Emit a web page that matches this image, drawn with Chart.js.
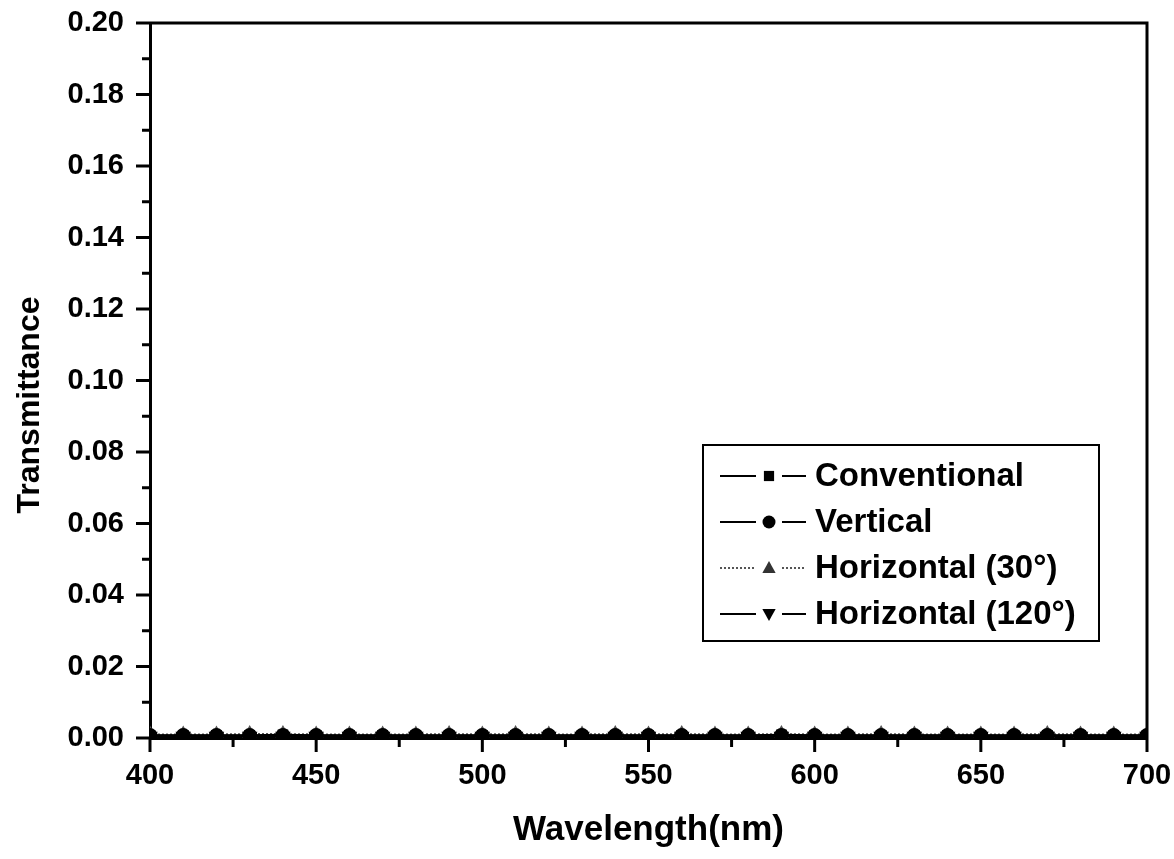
<!DOCTYPE html>
<html><head><meta charset="utf-8">
<script src="https://cdn.jsdelivr.net/npm/chart.js@4.4.1/dist/chart.umd.min.js"></script>
<style>html,body{margin:0;padding:0;background:#fff;}#wrap{width:1174px;height:859px;}</style>
</head><body><div id="wrap"><canvas id="c" width="1174" height="859"></canvas></div>
<script>
const wavelengths = [400,410,420,430,440,450,460,470,480,490,500,510,520,530,540,550,560,570,580,590,600,610,620,630,640,650,660,670,680,690,700];
const conventional = [0.0008,0.0008,0.0008,0.0008,0.0009,0.0008,0.0008,0.0008,0.0008,0.0008,0.0008,0.0008,0.0008,0.0008,0.0008,0.0008,0.0008,0.0008,0.0008,0.0009,0.0008,0.0008,0.0008,0.0008,0.0008,0.0008,0.0008,0.0008,0.0008,0.0008,0.0008];
const vertical = [0.0007,0.0007,0.0007,0.0007,0.0007,0.0007,0.0007,0.0007,0.0007,0.0007,0.0007,0.0007,0.0007,0.0007,0.0007,0.0007,0.0007,0.0007,0.0007,0.0007,0.0007,0.0007,0.0007,0.0007,0.0007,0.0007,0.0007,0.0007,0.0007,0.0007,0.0007];
const horizontal30 = [0.0010,0.0010,0.0010,0.0011,0.0011,0.0010,0.0010,0.0010,0.0010,0.0011,0.0010,0.0011,0.0010,0.0010,0.0011,0.0010,0.0011,0.0010,0.0010,0.0011,0.0010,0.0010,0.0011,0.0010,0.0010,0.0010,0.0010,0.0011,0.0010,0.0010,0.0010];
const horizontal120 = [0.0005,0.0005,0.0005,0.0005,0.0005,0.0005,0.0005,0.0005,0.0005,0.0005,0.0005,0.0005,0.0005,0.0005,0.0005,0.0005,0.0005,0.0005,0.0005,0.0005,0.0005,0.0005,0.0005,0.0005,0.0005,0.0005,0.0005,0.0005,0.0005,0.0005,0.0005];
const seriesLabels = ['Conventional','Vertical','Horizontal (30°)','Horizontal (120°)'];
const xTitle = 'Wavelength(nm)';
const yTitle = 'Transmittance';

function pts(arr){ return wavelengths.map((w,i)=>({x:w,y:arr[i]})); }

const FONT = 'Liberation Sans, Arial, sans-serif';

const datasets = [
  {label:seriesLabels[0], data:pts(conventional), borderColor:'#000', backgroundColor:'#000', borderWidth:2, pointStyle:'rect', pointRadius:6, pointRotation:0, borderDash:[]},
  {label:seriesLabels[1], data:pts(vertical), borderColor:'#000', backgroundColor:'#000', borderWidth:2, pointStyle:'circle', pointRadius:6.5, pointRotation:0, borderDash:[]},
  {label:seriesLabels[2], data:pts(horizontal30), borderColor:'#555', backgroundColor:'#333', borderWidth:2, pointStyle:'triangle', pointRadius:7, pointRotation:0, borderDash:[2,2]},
  {label:seriesLabels[3], data:pts(horizontal120), borderColor:'#000', backgroundColor:'#000', borderWidth:2, pointStyle:'triangle', pointRadius:7, pointRotation:180, borderDash:[]}
];

function drawMarker(ctx, style, rot, x, y, r, color){
  ctx.save();
  ctx.fillStyle = color;
  ctx.setLineDash([]);
  ctx.beginPath();
  if (style === 'rect') {
    ctx.rect(x - r*0.85, y - r*0.85, r*1.7, r*1.7);
  } else if (style === 'circle') {
    ctx.arc(x, y, r, 0, Math.PI*2);
  } else {
    const s = rot === 180 ? -1 : 1;
    ctx.moveTo(x, y - s*r);
    ctx.lineTo(x + r*0.95, y + s*r*0.7);
    ctx.lineTo(x - r*0.95, y + s*r*0.7);
    ctx.closePath();
  }
  ctx.fill();
  ctx.restore();
}

const framePlugin = {
  id: 'frame',
  afterDraw(chart){
    const ctx = chart.ctx;
    const a = chart.chartArea;
    const xs = chart.scales.x, ys = chart.scales.y;
    ctx.save();
    ctx.strokeStyle = '#000';
    ctx.lineWidth = 3;
    ctx.setLineDash([]);
    ctx.beginPath();
    ctx.moveTo(a.left, a.top); ctx.lineTo(a.right, a.top); ctx.lineTo(a.right, a.bottom);
    ctx.stroke();
    xs.ticks.forEach(t => {
      const px = xs.getPixelForValue(t.value);
      const major = Math.round(t.value) % 50 === 0;
      const len = major ? 14 : 9;
      ctx.beginPath(); ctx.moveTo(px, a.bottom); ctx.lineTo(px, a.bottom + len); ctx.stroke();
    });
    ys.ticks.forEach(t => {
      const py = ys.getPixelForValue(t.value);
      const major = Math.round(t.value*100) % 2 === 0;
      const len = major ? 14 : 8;
      ctx.beginPath(); ctx.moveTo(a.left, py); ctx.lineTo(a.left - len, py); ctx.stroke();
    });
    ctx.fillStyle = '#000';
    ctx.font = 'bold 32px ' + FONT;
    ctx.textAlign = 'center';
    ctx.textBaseline = 'middle';
    ctx.translate(30, 405);
    ctx.rotate(-Math.PI/2);
    ctx.fillText(yTitle, 0, 0);
    ctx.restore();

    ctx.save();
    ctx.strokeStyle = '#000';
    ctx.lineWidth = 2;
    ctx.strokeRect(703, 445, 396, 196);
    chart.data.datasets.forEach((ds, i) => {
      const y = 476 + i*46;
      ctx.save();
      ctx.strokeStyle = ds.borderColor;
      ctx.lineWidth = 2;
      ctx.setLineDash(ds.borderDash || []);
      ctx.beginPath();
      ctx.moveTo(720, y); ctx.lineTo(756, y);
      ctx.moveTo(782, y); ctx.lineTo(806, y);
      ctx.stroke();
      ctx.restore();
      drawMarker(ctx, ds.pointStyle, ds.pointRotation, 769, y, ds.pointRadius, ds.backgroundColor);
      ctx.fillStyle = '#000';
      ctx.font = 'bold 33px ' + FONT;
      ctx.textAlign = 'left';
      ctx.textBaseline = 'middle';
      ctx.fillText(ds.label, 815, y + 1);
    });
    ctx.restore();
  }
};

new Chart(document.getElementById('c'), {
  type: 'line',
  data: { datasets },
  options: {
    responsive: false,
    animation: false,
    layout: { padding: { top: 23, right: 27, left: 0, bottom: 0 } },
    plugins: { legend: { display: false }, tooltip: { enabled: false } },
    elements: { line: { tension: 0 } },
    scales: {
      x: {
        type: 'linear', min: 400, max: 700,
        afterFit(s){ s.height = 121; s.paddingLeft = 0; s.paddingRight = 0; },
        border: { display: true, color: '#000', width: 3 },
        grid: { display: false, drawTicks: false },
        ticks: {
          stepSize: 25, padding: 21, color: '#000',
          font: { family: FONT, size: 29, weight: 'bold' },
          maxRotation: 0, autoSkip: false,
          callback: v => (Math.round(v) % 50 === 0 ? String(Math.round(v)) : '')
        },
        title: { display: true, text: xTitle, color: '#000', font: { family: FONT, size: 35, weight: 'bold' }, padding: { top: 0, bottom: 8 } }
      },
      y: {
        type: 'linear', min: 0, max: 0.2,
        afterFit(s){ s.width = 150; s.paddingTop = 0; s.paddingBottom = 0; },
        border: { display: true, color: '#000', width: 3 },
        grid: { display: false, drawTicks: false },
        ticks: {
          stepSize: 0.01, padding: 26, color: '#000',
          font: { family: FONT, size: 29, weight: 'bold' },
          autoSkip: false,
          callback: v => (Math.round(v*100) % 2 === 0 ? v.toFixed(2) : '')
        }
      }
    }
  },
  plugins: [framePlugin]
});
</script>
</body></html>
